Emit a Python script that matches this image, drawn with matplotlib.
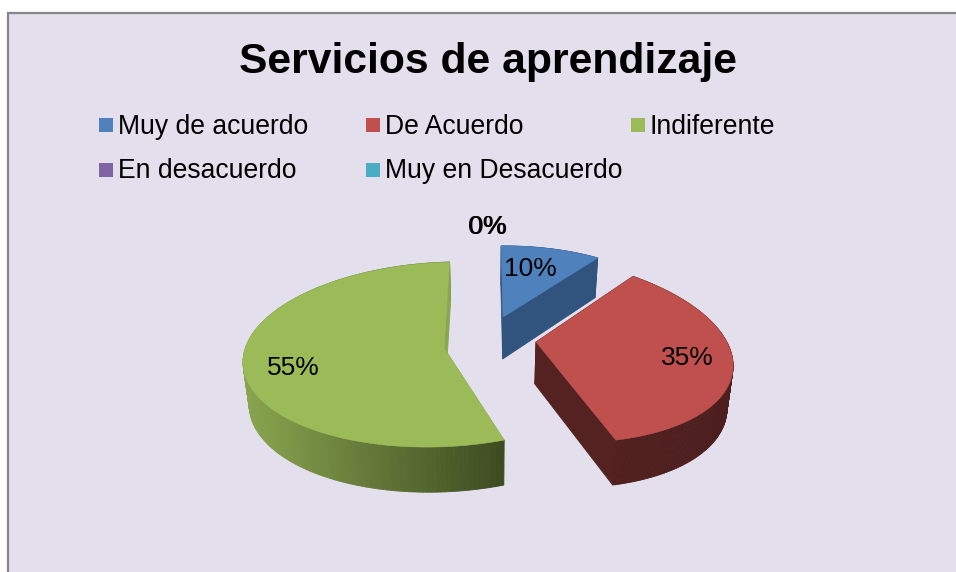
import numpy as np
import matplotlib
matplotlib.use("Agg")
import matplotlib.pyplot as plt
from matplotlib.colors import to_rgb
from matplotlib.patches import Polygon, Rectangle

plt.rcParams['font.family'] = ['Liberation Sans', 'DejaVu Sans']

titulo = "Servicios de aprendizaje"
categorias = ["Muy de acuerdo", "De Acuerdo", "Indiferente", "En desacuerdo", "Muy en Desacuerdo"]
valores = [10, 35, 55, 0, 0]
colores = ["#4F81BD", "#C0504D", "#9BBB59", "#8064A2", "#4BACC6"]

# apariencia 3D de cada porcion: vertice en pixeles y matriz (a, b, c, d)
vertices = [(503, 317), (536, 342), (444, 348)]
matrices = [(173, -2, 1.5, 76), (195, -15, -10, 93), (200, 6, 5, 92)]
laterales = [("#31547F", "#31547F"), ("#542220", "#4C1E1D"), ("#8AA64F", "#3D4A20")]
profundidad = 42
persp = 0.07
centro_x = 490

pos_leyenda = [(99, 125), (366, 125), (631, 125), (99, 170), (366, 170)]
pos_etiquetas = [(530, 269), (687, 358), (293, 368), (487, 227), (488, 227)]

fig = plt.figure(figsize=(9.56, 5.72), dpi=100, facecolor="white")
ax = fig.add_axes([0, 0, 1, 1])
cunas, _ = ax.pie(valores, startangle=90, counterclock=False, radius=1)
ax.set_aspect("auto")
ax.set_xlim(0, 956)
ax.set_ylim(572, 0)
ax.axis("off")

ax.add_patch(Rectangle((8, 13), 960, 570, facecolor="#E4DFEC", edgecolor="#868686", linewidth=1.6, zorder=0))


def proyectar(u, v, i):
    a, b, c, d = matrices[i]
    f = 1 + persp * v
    x = vertices[i][0] + (a * u + b * v) / f
    y = vertices[i][1] - (c * u + d * v) / f
    return x, y


def bajar(x, y, v):
    return centro_x + (x - centro_x) * 0.975, y + profundidad / (1 + persp * v)


for i, cuna in enumerate(cunas):
    if valores[i] == 0:
        cuna.remove()
        continue
    t = np.radians(np.linspace(cuna.theta1, cuna.theta2, 160))
    u = np.r_[0, np.cos(t), 0]
    v = np.r_[0, np.sin(t), 0]
    x, y = proyectar(u, v, i)
    xb, yb = bajar(x, y, v)
    cuna.remove()

    c0, c1 = (np.array(to_rgb(c)) for c in laterales[i])
    caras = []
    for k in range(len(x) - 1):
        q = [(x[k], y[k]), (x[k + 1], y[k + 1]), (xb[k + 1], yb[k + 1]), (xb[k], yb[k])]
        mx = sum(p[0] for p in q) / 4
        s = np.clip((mx - x.min()) / (x.max() - x.min()), 0, 1)
        # las caras de corte no llevan degradado
        if k == 0 or k == len(x) - 2:
            s = 0
        caras.append((q, c0 + (c1 - c0) * s))
    caras.sort(key=lambda e: sum(p[1] for p in e[0]))
    for q, col in caras:
        ax.add_patch(Polygon(q, closed=True, facecolor=col, edgecolor=col, linewidth=0.6, zorder=2))
    ax.add_patch(Polygon(np.c_[x, y], closed=True, facecolor=colores[i], edgecolor=colores[i], linewidth=0.4, zorder=3))

ax.text(488, 62, titulo, fontsize=30.7, fontweight="bold", ha="center", va="center", zorder=5)

for nombre, color, (px, py) in zip(categorias, colores, pos_leyenda):
    ax.add_patch(Rectangle((px, py - 7), 14, 14, facecolor=color, edgecolor="none", zorder=5))
    ax.text(px + 19, py + 1.5, nombre, fontsize=19.1, ha="left", va="center", zorder=5)

for valor, (px, py) in zip(valores, pos_etiquetas):
    ax.text(px, py, f"{valor}%", fontsize=19, ha="center", va="center", zorder=6)

fig.savefig("out.png", dpi=100, facecolor="white")
